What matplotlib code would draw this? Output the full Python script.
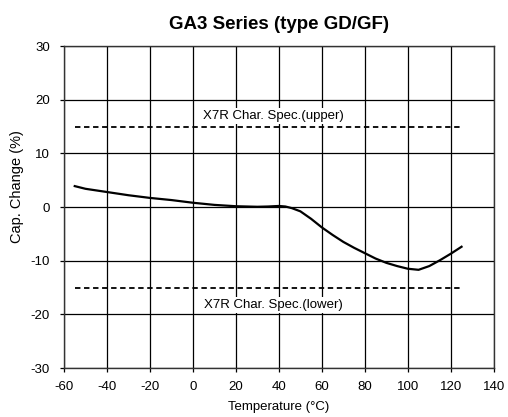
import matplotlib
matplotlib.use("Agg")
import matplotlib.pyplot as plt
import numpy as np

plt.rcParams["font.family"] = ["Liberation Sans", "DejaVu Sans"]
plt.rcParams["axes.unicode_minus"] = False

# Capacitance change curve
temp = [-55, -50, -40, -30, -20, -10, 0, 10, 20, 25, 30, 35, 40, 43, 46, 50,
        55, 60, 65, 70, 75, 80, 85, 90, 95, 100, 105, 110, 115, 120, 125]
cap_change = [3.9, 3.4, 2.8, 2.2, 1.7, 1.3, 0.8, 0.4, 0.15, 0.1, 0.05, 0.1, 0.2, 0.1,
              -0.2, -0.8, -2.2, -3.8, -5.2, -6.5, -7.6, -8.6, -9.6, -10.4, -11.0, -11.5,
              -11.7, -11.0, -9.9, -8.7, -7.4]

spec_x = [-55, 125]
spec_upper = [15, 15]
spec_lower = [-15, -15]

x_ticks = np.arange(-60, 141, 20)
y_ticks = np.arange(-30, 31, 10)

fig = plt.figure(figsize=(5.08, 4.17), dpi=100)
ax = fig.add_axes([0.126, 0.1175, 0.846, 0.772])

ax.plot(temp, cap_change, color="black", linewidth=1.6, solid_joinstyle="round")
ax.plot(spec_x, spec_upper, color="black", linestyle=(0, (3, 2)), linewidth=1.3)
ax.plot(spec_x, spec_lower, color="black", linestyle=(0, (3, 2)), linewidth=1.3)

box = dict(facecolor="white", edgecolor="none", pad=1.5)
ax.text(37.4, 17.0, "X7R Char. Spec.(upper)", ha="center", va="center",
        fontsize=9.5, bbox=box)
ax.text(37.4, -18.2, "X7R Char. Spec.(lower)", ha="center", va="center",
        fontsize=9.5, bbox=box)

ax.set_xlim(-60, 140)
ax.set_ylim(-30, 30)
ax.set_xticks(x_ticks)
ax.set_yticks(y_ticks)
ax.grid(True, color="black", linewidth=0.9)
ax.set_axisbelow(True)
ax.tick_params(labelsize=9.5, length=3, width=0.9, direction="out")
ax.tick_params(axis="x", pad=6)
ax.tick_params(axis="y", pad=7)
for s in ax.spines.values():
    s.set_linewidth(1.0)
    s.set_color("#333333")

ax.set_xlabel("Temperature (°C)", fontsize=9.5, labelpad=6)
ax.set_ylabel("Cap. Change (%)", fontsize=10.5)
ax.yaxis.set_label_coords(-0.093, 0.565)
ax.set_title("GA3 Series (type GD/GF)", fontsize=13.5, fontweight="bold", pad=12)

fig.savefig("out.png", dpi=100)
